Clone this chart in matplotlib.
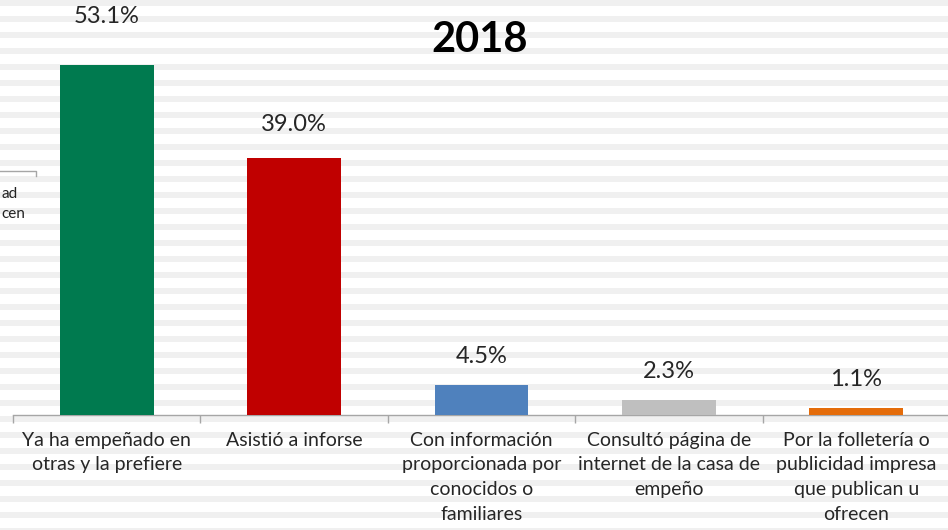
import matplotlib
matplotlib.use("Agg")
import matplotlib.pyplot as plt
from matplotlib.ticker import FixedLocator

categories = [
    "Ya ha empeñado en\notras y la prefiere",
    "Asistió a inforse",
    "Con información\nproporcionada por\nconocidos o\nfamiliares",
    "Consultó página de\ninternet de la casa de\nempeño",
    "Por la folletería o\npublicidad impresa\nque publican u\nofrecen",
]
values = [53.1, 39.0, 4.5, 2.3, 1.1]
colors = ["#007A4F", "#C00000", "#4F81BD", "#BFBFBF", "#E46C0A"]
title = "2018"
label_offsets_pt = [27, 16, 13, 13, 13]

plt.rcParams["font.family"] = ["Lato", "DejaVu Sans"]

W, H = 948, 530
fig = plt.figure(figsize=(W / 100, H / 100), dpi=100)
fig.patch.set_facecolor("white")

# striped background
bg = fig.add_axes([0, 0, 1, 1], zorder=0)
bg.set_xlim(0, W)
bg.set_ylim(H, 0)
bg.axis("off")
for y0 in range(0, H, 16):
    bg.axhspan(y0, y0 + 6, color="#F0F0F0", lw=0)
# fragment of neighbouring chart legend at left edge
bg.plot([0, 36, 36], [171, 171, 176], color="#A6A6A6", lw=1)
bg.text(1, 198, "ad", ha="left", va="baseline", fontsize=11, color="#222222")
bg.text(1, 218, "cen", ha="left", va="baseline", fontsize=11, color="#222222")

left = 13 / W
bottom = (H - 415) / H
ax = fig.add_axes([left, bottom, 1 - left + 0.002, 396 / H], zorder=1)
ax.patch.set_alpha(0)
ax.set_xlim(-0.5, len(values) - 0.5)
ax.set_ylim(0, 60)

x = range(len(values))
ax.bar(x, values, width=0.5, color=colors, zorder=3)
for xi, v, off in zip(x, values, label_offsets_pt):
    ax.annotate(f"{v:.1f}%", (xi, v), xytext=(0, off), textcoords="offset points",
                ha="center", va="bottom", fontsize=17, color="#262626")

for s in ["top", "right", "left"]:
    ax.spines[s].set_visible(False)
ax.spines["bottom"].set_color("#A6A6A6")
ax.spines["bottom"].set_linewidth(1)
ax.set_yticks([])
ax.set_xticks(list(x))
ax.set_xticklabels(categories, fontsize=14, color="#262626", linespacing=1.55, va="top")
ax.tick_params(axis="x", which="major", length=0, pad=12)
ax.xaxis.set_minor_locator(FixedLocator([i - 0.5 for i in range(len(values) + 1)]))
ax.tick_params(axis="x", which="minor", length=6, color="#A6A6A6", width=1)

fig.text(480 / W, 1 - 40 / H, title, ha="center", va="center", fontsize=30,
         fontweight="bold", color="black")

fig.savefig("out.png", dpi=100)
